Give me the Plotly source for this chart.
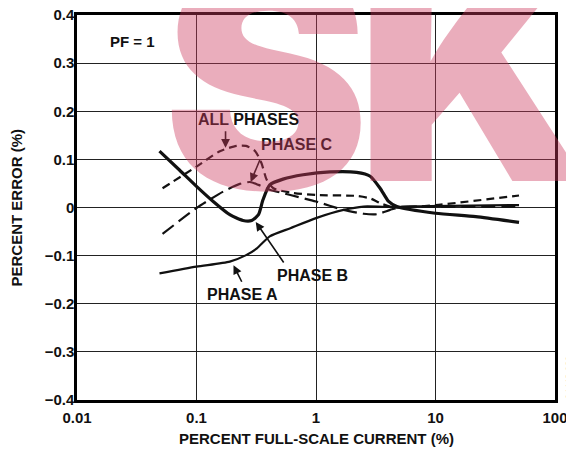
import math
import plotly.graph_objects as go

# ---- data ----
phase_a_x = [0.049, 0.1, 0.19, 0.26, 0.32, 0.41, 0.61, 1.0, 1.7, 2.5, 4.5, 9.0, 20, 50]
phase_a_y = [-0.137, -0.123, -0.1125, -0.099, -0.085, -0.060, -0.043, -0.022, -0.005, 0.002, 0.001, 0.003, 0.004, 0.005]

phase_b_x = [0.049, 0.072, 0.1, 0.138, 0.19, 0.245, 0.29, 0.33, 0.36, 0.41, 0.53, 0.78, 1.31, 2.19,
             2.84, 3.44, 4.05, 4.75, 10, 21.7, 50]
phase_b_y = [0.117, 0.078, 0.044, 0.0125, -0.015, -0.027, -0.027, -0.015, 0.016, 0.047, 0.059, 0.068,
             0.074, 0.073, 0.065, 0.040, 0.0125, 0.002, -0.012, -0.019, -0.031]

phase_c_x = [0.052, 0.1, 0.167, 0.23, 0.28, 0.33, 0.41, 0.61, 1.0, 1.7, 2.5, 3.23, 4.17, 5.06, 10, 50]
phase_c_y = [-0.055, -0.001, 0.033, 0.049, 0.053, 0.047, 0.037, 0.026, 0.0125, -0.005, -0.013, -0.014,
             -0.005, 0.001, 0.001, 0.002]

all_x = [0.052, 0.1, 0.157, 0.216, 0.26, 0.31, 0.35, 0.386, 0.44, 0.61, 1.0, 2.19, 2.84, 3.44, 4.5, 10, 50]
all_y = [0.040, 0.085, 0.117, 0.128, 0.128, 0.117, 0.092, 0.058, 0.040, 0.031, 0.026, 0.024, 0.019,
         0.009, 0.0, 0.005, 0.025]

x_ticks = [0.01, 0.1, 1, 10, 100]
x_tick_text = ["0.01", "0.1", "1", "10", "100"]
y_ticks = [0.4, 0.3, 0.2, 0.1, 0, -0.1, -0.2, -0.3, -0.4]
y_tick_text = ["0.4", "0.3", "0.2", "0.1", "0", "\u22120.1", "\u22120.2", "\u22120.3", "\u22120.4"]

# label text, tip point on curve (x, y)
labels = [
    ("ALL PHASES", 0.175, 0.124),
    ("PHASE C", 0.284, 0.053),
    ("PHASE B", 0.313, -0.030),
    ("PHASE A", 0.204, -0.120),
]

FONT = "Liberation Sans, Arial, sans-serif"
INK = "#111111"
fig = go.Figure()

fig.add_trace(go.Scatter(x=phase_a_x, y=phase_a_y, mode="lines", name="PHASE A",
                         line=dict(color=INK, width=2.2, shape="spline", smoothing=0.6)))
fig.add_trace(go.Scatter(x=phase_b_x, y=phase_b_y, mode="lines", name="PHASE B",
                         line=dict(color=INK, width=3.2, shape="spline", smoothing=0.6)))
fig.add_trace(go.Scatter(x=phase_c_x, y=phase_c_y, mode="lines", name="PHASE C",
                         line=dict(color=INK, width=2.2, dash="14px,6px", shape="spline", smoothing=0.6)))
fig.add_trace(go.Scatter(x=all_x, y=all_y, mode="lines", name="ALL PHASES",
                         line=dict(color=INK, width=2.2, dash="8px,5px", shape="spline", smoothing=0.6)))

annotations = []
text_pos = {
    "ALL PHASES": (-0.564, 0.182),
    "PHASE C": (-0.158, 0.130),
    "PHASE B": (-0.028, -0.142),
    "PHASE A": (-0.614, -0.180),
}
arrow_off = {
    "ALL PHASES": (0, -18),
    "PHASE C": (10, -24),
    "PHASE B": (29, 42),
    "PHASE A": (9, 18),
}
for name, tx, ty in labels:
    px, py = text_pos[name]
    annotations.append(dict(x=px, y=py, xref="x", yref="y", text="<b>%s</b>" % name, showarrow=False,
                            xanchor="center", yanchor="middle",
                            font=dict(family=FONT, size=16, color=INK)))
    ax, ay = arrow_off[name]
    annotations.append(dict(x=math.log10(tx), y=ty, xref="x", yref="y", text="", showarrow=True,
                            ax=ax, ay=ay, arrowhead=2, arrowsize=1.1, arrowwidth=1.6,
                            arrowcolor=INK))

annotations.append(dict(x=-1.536, y=0.344, xref="x", yref="y", text="<b>PF = 1</b>", showarrow=False,
                        xanchor="center", yanchor="middle",
                        font=dict(family=FONT, size=15, color=INK)))

# page pixel -> paper coordinates (plot area spans x 77..555, y 15..400 on the page)
def px_to_paper_x(px):
    return (px - 77) / 478.0

def py_to_paper_y(py):
    return (400 - py) / 385.0

annotations.append(dict(x=px_to_paper_x(569), y=py_to_paper_y(378), xref="paper", yref="paper",
                        text="04443-020", showarrow=False, textangle=-90,
                        xanchor="center", yanchor="middle",
                        font=dict(family=FONT, size=9, color="#777777")))
# axis titles
annotations.append(dict(x=0.5, y=py_to_paper_y(438), xref="paper", yref="paper",
                        text="<b>PERCENT FULL-SCALE CURRENT (%)</b>", showarrow=False,
                        xanchor="center", yanchor="middle",
                        font=dict(family=FONT, size=15, color=INK)))
annotations.append(dict(x=px_to_paper_x(16), y=0.5, xref="paper", yref="paper",
                        text="<b>PERCENT ERROR (%)</b>", showarrow=False, textangle=-90,
                        xanchor="center", yanchor="middle",
                        font=dict(family=FONT, size=15, color=INK)))

# watermark overlay
WM_FONT = "Inter, Roboto, Lato, Liberation Sans, sans-serif"
wm_color = "rgba(205,60,95,0.42)"
for ch, xp, yp, anchor in [("S", px_to_paper_x(266), py_to_paper_y(266), "center"),
                           ("K", px_to_paper_x(354), py_to_paper_y(258), "left"),
                           ("Y", px_to_paper_x(532), py_to_paper_y(262), "left")]:
    annotations.append(dict(x=xp, y=yp, xref="paper", yref="paper", text=ch,
                            showarrow=False, xanchor=anchor, yanchor="bottom",
                            font=dict(family=WM_FONT, size=310, color=wm_color, weight=900)))

# the page body has an 8px margin: the figure is sized so the plot area lands at
# x 77..555, y 15..400 of the 574x449 window
fig.update_layout(
    width=566, height=441,
    margin=dict(l=69, r=19, t=7, b=49),
    paper_bgcolor="white", plot_bgcolor="white",
    showlegend=False,
    font=dict(family=FONT, size=15, color=INK),
    annotations=annotations,
    xaxis=dict(type="log", range=[-2, 2], tickvals=x_ticks,
               ticktext=["<b>%s</b>" % t for t in x_tick_text], automargin=False,
               showgrid=True, gridcolor="#222222", gridwidth=1, zeroline=False,
               showline=True, linecolor="#000000", linewidth=2.5, mirror=True, ticks="",
               ticklabelstandoff=2, ticklabeloverflow="allow",
               tickfont=dict(family=FONT, size=15, color=INK)),
    yaxis=dict(range=[-0.4, 0.4], tickvals=y_ticks,
               ticktext=["<b>%s</b>" % t for t in y_tick_text], automargin=False,
               showgrid=True, gridcolor="#222222", gridwidth=1, zeroline=False,
               showline=True, linecolor="#000000", linewidth=2.5, mirror=True, ticks="",
               ticklabelstandoff=-3, ticklabeloverflow="allow",
               tickfont=dict(family=FONT, size=15, color=INK)),
)

fig.write_html("out.html")
